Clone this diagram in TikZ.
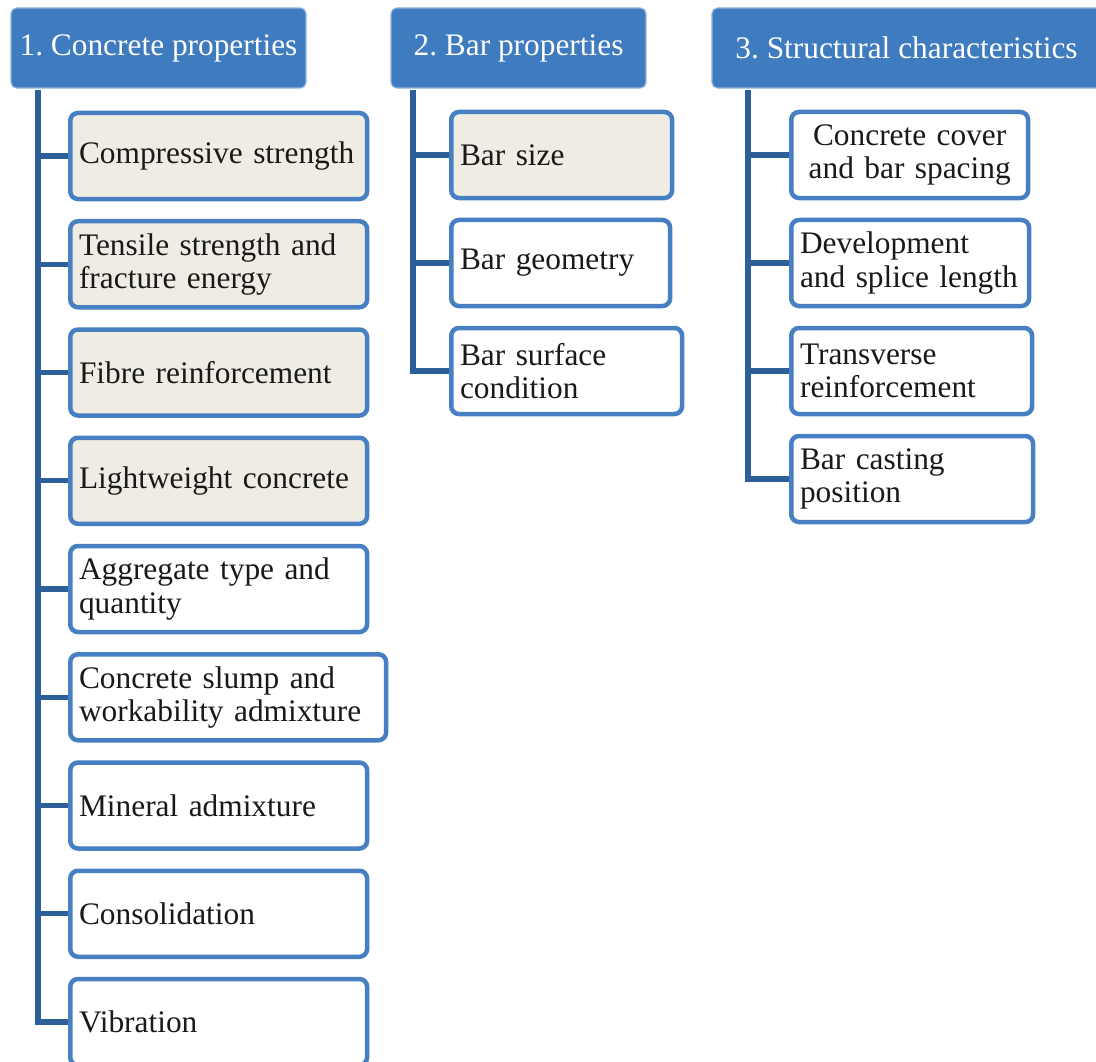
\documentclass[tikz,border=0pt]{standalone}
\usepackage{fontspec}
\setmainfont{Liberation Serif}
\usepackage{tikz}
\frenchspacing

\definecolor{headblue}{HTML}{3F7BBF}
\definecolor{edgeblue}{HTML}{4780C2}
\definecolor{linkblue}{HTML}{2D5F98}
\definecolor{paleback}{HTML}{EFEDE3}

\tikzset{
  head/.style={fill=headblue, draw=headblue!55!white, line width=0.8pt, rounded corners=4pt,
    text=white, minimum height=2cm, inner sep=0pt},
  leaf/.style={draw=edgeblue, line width=3.2pt, fill=white, rounded corners=5.5pt, anchor=west,
    minimum height=2.15cm, inner xsep=0.22cm, inner ysep=0pt, align=left, text width=#1,
    text=black!90},
  hit/.style={fill=paleback},
  link/.style={draw=linkblue, line width=3.6pt},
}

\begin{document}
\begin{tikzpicture}[x=0.025cm, y=-0.025cm, font=\fontsize{22.3}{23.5}\selectfont]
    \path[use as bounding box, clip] (0,0) rectangle (1096,1061);

    % headers
    \node[head, minimum width=7.375cm] (h1) at (158.5,48) {1. Concrete properties};
    \node[head, minimum width=6.375cm] (h2) at (518.5,48) {2. Bar properties};
    \node[head, minimum width=9.725cm] (h3) at (906.5,48) {3. Structural characteristics};

    % concrete
    \node[leaf=6.98cm, hit] (c1) at (68,156) {Compressive strength};
    \node[leaf=6.98cm, hit] (c2) at (68,264.25) {Tensile strength and\\fracture energy};
    \node[leaf=6.98cm, hit] (c3) at (68,372.5) {Fibre reinforcement};
    \node[leaf=6.98cm, hit] (c4) at (68,480.75) {Lightweight concrete};
    \node[leaf=6.98cm] (c5) at (68,589) {Aggregate type and\\quantity};
    \node[leaf=7.455cm] (c6) at (68,697.25) {Concrete slump and\\workability admixture};
    \node[leaf=6.98cm] (c7) at (68,805.5) {Mineral admixture};
    \node[leaf=6.98cm] (c8) at (68,913.75) {Consolidation};
    \node[leaf=6.98cm] (c9) at (68,1022) {Vibration};

    % bars
    \node[leaf=5.08cm, hit] (b1) at (449,155) {Bar size};
    \node[leaf=5.03cm] (b2) at (449,263) {Bar geometry};
    \node[leaf=5.33cm] (b3) at (449,371) {Bar surface\\condition};

    % structure
    \node[leaf=5.48cm, align=center] (s1) at (789,155) {Concrete cover\\and bar spacing};
    \node[leaf=5.505cm] (s2) at (789,263) {Development\\and splice length};
    \node[leaf=5.58cm] (s3) at (789,371) {Transverse\\reinforcement};
    \node[leaf=5.605cm] (s4) at (789,479) {Bar casting\\position};

    % trunks
    \coordinate (t1) at (38,90);
    \coordinate (t2) at (413,90);
    \coordinate (t3) at (748,90);

    \draw[link] (t1) |- (c9.west);
    \foreach \i in {1,...,8}
        \draw[link] (t1 |- c\i.west) -- (c\i.west);
    \draw[link] (t2) |- (b3.west);
    \foreach \i in {1,2}
        \draw[link] (t2 |- b\i.west) -- (b\i.west);
    \draw[link] (t3) |- (s4.west);
    \foreach \i in {1,2,3}
        \draw[link] (t3 |- s\i.west) -- (s\i.west);
\end{tikzpicture}
\end{document}
